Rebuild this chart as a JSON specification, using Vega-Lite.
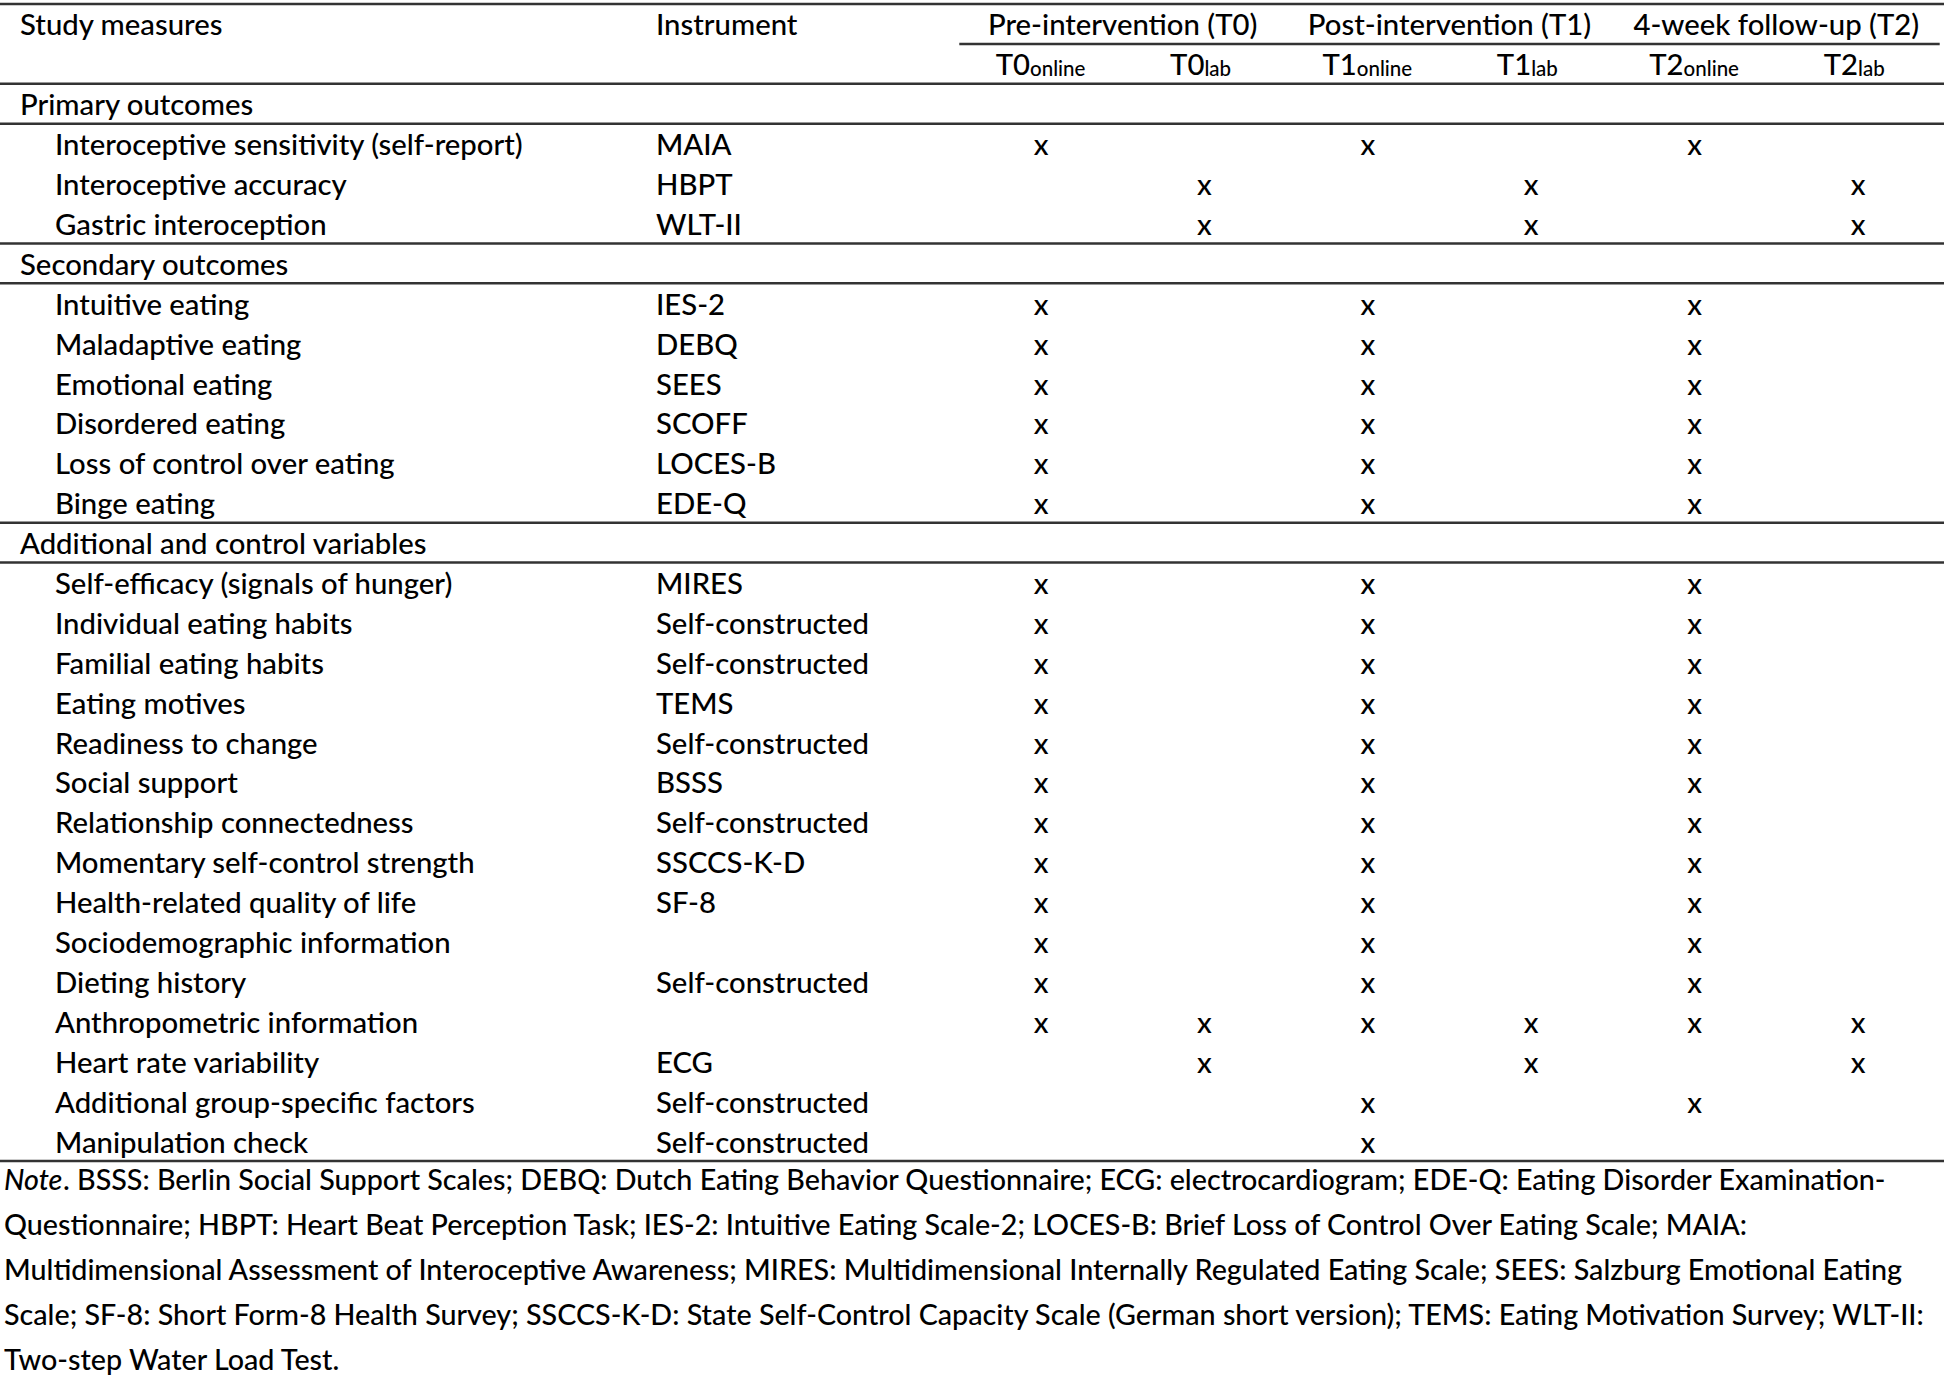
{
  "$schema": "https://vega.github.io/schema/vega-lite/v6.json",
  "width": 1944,
  "height": 1377,
  "padding": 0,
  "autosize": {"type": "none"},
  "background": "white",
  "config": {
    "view": {"stroke": null},
    "text": {"font": "Lato", "fontSize": 29.3, "fontWeight": 500, "color": "#000000", "baseline": "middle", "dy": 1.5}
  },
  "datasets": {
    "rules": [
      {"row": "Study measures"},
      {"row": "Primary outcomes"},
      {"row": "Interoceptive sensitivity (self-report)"},
      {"row": "Secondary outcomes"},
      {"row": "Intuitive eating"},
      {"row": "Additional and control variables"},
      {"row": "Self-efficacy (signals of hunger)"}
    ],
    "headers": [
      {"row": "Study measures", "col": "measures", "label": "Study measures"},
      {"row": "Study measures", "col": "instrument", "label": "Instrument"}
    ],
    "sections": [
      {"row": "Primary outcomes"},
      {"row": "Secondary outcomes"},
      {"row": "Additional and control variables"}
    ],
    "items": [
      {"row": "Interoceptive sensitivity (self-report)", "instrument": "MAIA"},
      {"row": "Interoceptive accuracy", "instrument": "HBPT"},
      {"row": "Gastric interoception", "instrument": "WLT-II"},
      {"row": "Intuitive eating", "instrument": "IES-2"},
      {"row": "Maladaptive eating", "instrument": "DEBQ"},
      {"row": "Emotional eating", "instrument": "SEES"},
      {"row": "Disordered eating", "instrument": "SCOFF"},
      {"row": "Loss of control over eating", "instrument": "LOCES-B"},
      {"row": "Binge eating", "instrument": "EDE-Q"},
      {"row": "Self-efficacy (signals of hunger)", "instrument": "MIRES"},
      {"row": "Individual eating habits", "instrument": "Self-constructed"},
      {"row": "Familial eating habits", "instrument": "Self-constructed"},
      {"row": "Eating motives", "instrument": "TEMS"},
      {"row": "Readiness to change", "instrument": "Self-constructed"},
      {"row": "Social support", "instrument": "BSSS"},
      {"row": "Relationship connectedness", "instrument": "Self-constructed"},
      {"row": "Momentary self-control strength", "instrument": "SSCCS-K-D"},
      {"row": "Health-related quality of life", "instrument": "SF-8"},
      {"row": "Sociodemographic information", "instrument": ""},
      {"row": "Dieting history", "instrument": "Self-constructed"},
      {"row": "Anthropometric information", "instrument": ""},
      {"row": "Heart rate variability", "instrument": "ECG"},
      {"row": "Additional group-specific factors", "instrument": "Self-constructed"},
      {"row": "Manipulation check", "instrument": "Self-constructed"}
    ],
    "groups": [
      {"label": "Pre-intervention (T0)", "at": "T0lab"},
      {"label": "Post-intervention (T1)", "at": "T1lab"},
      {"label": "4-week follow-up (T2)", "at": "T2lab"}
    ],
    "tps": [
      {"tp": "T0online", "main": "T0", "sub": "online"},
      {"tp": "T0lab", "main": "T0", "sub": "lab"},
      {"tp": "T1online", "main": "T1", "sub": "online"},
      {"tp": "T1lab", "main": "T1", "sub": "lab"},
      {"tp": "T2online", "main": "T2", "sub": "online"},
      {"tp": "T2lab", "main": "T2", "sub": "lab"}
    ],
    "marks": [
      {"row": "Interoceptive sensitivity (self-report)", "tp": "T0online"},
      {"row": "Interoceptive sensitivity (self-report)", "tp": "T1online"},
      {"row": "Interoceptive sensitivity (self-report)", "tp": "T2online"},
      {"row": "Interoceptive accuracy", "tp": "T0lab"},
      {"row": "Interoceptive accuracy", "tp": "T1lab"},
      {"row": "Interoceptive accuracy", "tp": "T2lab"},
      {"row": "Gastric interoception", "tp": "T0lab"},
      {"row": "Gastric interoception", "tp": "T1lab"},
      {"row": "Gastric interoception", "tp": "T2lab"},
      {"row": "Intuitive eating", "tp": "T0online"},
      {"row": "Intuitive eating", "tp": "T1online"},
      {"row": "Intuitive eating", "tp": "T2online"},
      {"row": "Maladaptive eating", "tp": "T0online"},
      {"row": "Maladaptive eating", "tp": "T1online"},
      {"row": "Maladaptive eating", "tp": "T2online"},
      {"row": "Emotional eating", "tp": "T0online"},
      {"row": "Emotional eating", "tp": "T1online"},
      {"row": "Emotional eating", "tp": "T2online"},
      {"row": "Disordered eating", "tp": "T0online"},
      {"row": "Disordered eating", "tp": "T1online"},
      {"row": "Disordered eating", "tp": "T2online"},
      {"row": "Loss of control over eating", "tp": "T0online"},
      {"row": "Loss of control over eating", "tp": "T1online"},
      {"row": "Loss of control over eating", "tp": "T2online"},
      {"row": "Binge eating", "tp": "T0online"},
      {"row": "Binge eating", "tp": "T1online"},
      {"row": "Binge eating", "tp": "T2online"},
      {"row": "Self-efficacy (signals of hunger)", "tp": "T0online"},
      {"row": "Self-efficacy (signals of hunger)", "tp": "T1online"},
      {"row": "Self-efficacy (signals of hunger)", "tp": "T2online"},
      {"row": "Individual eating habits", "tp": "T0online"},
      {"row": "Individual eating habits", "tp": "T1online"},
      {"row": "Individual eating habits", "tp": "T2online"},
      {"row": "Familial eating habits", "tp": "T0online"},
      {"row": "Familial eating habits", "tp": "T1online"},
      {"row": "Familial eating habits", "tp": "T2online"},
      {"row": "Eating motives", "tp": "T0online"},
      {"row": "Eating motives", "tp": "T1online"},
      {"row": "Eating motives", "tp": "T2online"},
      {"row": "Readiness to change", "tp": "T0online"},
      {"row": "Readiness to change", "tp": "T1online"},
      {"row": "Readiness to change", "tp": "T2online"},
      {"row": "Social support", "tp": "T0online"},
      {"row": "Social support", "tp": "T1online"},
      {"row": "Social support", "tp": "T2online"},
      {"row": "Relationship connectedness", "tp": "T0online"},
      {"row": "Relationship connectedness", "tp": "T1online"},
      {"row": "Relationship connectedness", "tp": "T2online"},
      {"row": "Momentary self-control strength", "tp": "T0online"},
      {"row": "Momentary self-control strength", "tp": "T1online"},
      {"row": "Momentary self-control strength", "tp": "T2online"},
      {"row": "Health-related quality of life", "tp": "T0online"},
      {"row": "Health-related quality of life", "tp": "T1online"},
      {"row": "Health-related quality of life", "tp": "T2online"},
      {"row": "Sociodemographic information", "tp": "T0online"},
      {"row": "Sociodemographic information", "tp": "T1online"},
      {"row": "Sociodemographic information", "tp": "T2online"},
      {"row": "Dieting history", "tp": "T0online"},
      {"row": "Dieting history", "tp": "T1online"},
      {"row": "Dieting history", "tp": "T2online"},
      {"row": "Anthropometric information", "tp": "T0online"},
      {"row": "Anthropometric information", "tp": "T0lab"},
      {"row": "Anthropometric information", "tp": "T1online"},
      {"row": "Anthropometric information", "tp": "T1lab"},
      {"row": "Anthropometric information", "tp": "T2online"},
      {"row": "Anthropometric information", "tp": "T2lab"},
      {"row": "Heart rate variability", "tp": "T0lab"},
      {"row": "Heart rate variability", "tp": "T1lab"},
      {"row": "Heart rate variability", "tp": "T2lab"},
      {"row": "Additional group-specific factors", "tp": "T1online"},
      {"row": "Additional group-specific factors", "tp": "T2online"},
      {"row": "Manipulation check", "tp": "T1online"}
    ],
    "notes": [
      {"line": 1, "text": ". BSSS: Berlin Social Support Scales; DEBQ: Dutch Eating Behavior Questionnaire; ECG: electrocardiogram; EDE-Q: Eating Disorder Examination-"},
      {"line": 2, "text": "Questionnaire; HBPT: Heart Beat Perception Task; IES-2: Intuitive Eating Scale-2; LOCES-B: Brief Loss of Control Over Eating Scale; MAIA:"},
      {"line": 3, "text": "Multidimensional Assessment of Interoceptive Awareness; MIRES: Multidimensional Internally Regulated Eating Scale; SEES: Salzburg Emotional Eating"},
      {"line": 4, "text": "Scale; SF-8: Short Form-8 Health Survey; SSCCS-K-D: State Self-Control Capacity Scale (German short version); TEMS: Eating Motivation Survey; WLT-II:"},
      {"line": 5, "text": "Two-step Water Load Test."}
    ]
  },
  "resolve": {"scale": {"x": "independent", "y": "independent"}},
  "layer": [
    {
      "data": {"name": "rules"},
      "mark": {"type": "rule", "strokeWidth": 2.5, "color": "#333333"},
      "encoding": {
        "y": {"field": "row", "type": "nominal", "bandPosition": 0, "axis": null,
          "scale": {"type": "band", "range": [4, 1161], "paddingInner": 0, "paddingOuter": 0,
            "domain": ["Study measures", "Timepoint", "Primary outcomes", "Interoceptive sensitivity (self-report)", "Interoceptive accuracy", "Gastric interoception", "Secondary outcomes", "Intuitive eating", "Maladaptive eating", "Emotional eating", "Disordered eating", "Loss of control over eating", "Binge eating", "Additional and control variables", "Self-efficacy (signals of hunger)", "Individual eating habits", "Familial eating habits", "Eating motives", "Readiness to change", "Social support", "Relationship connectedness", "Momentary self-control strength", "Health-related quality of life", "Sociodemographic information", "Dieting history", "Anthropometric information", "Heart rate variability", "Additional group-specific factors", "Manipulation check"]}}
      }
    },
    {
      "data": {"values": [{"row": "Manipulation check"}]},
      "mark": {"type": "rule", "strokeWidth": 2.5, "color": "#333333"},
      "encoding": {
        "y": {"field": "row", "type": "nominal", "bandPosition": 1, "axis": null,
          "scale": {"type": "band", "range": [4, 1161], "paddingInner": 0, "paddingOuter": 0,
            "domain": ["Study measures", "Timepoint", "Primary outcomes", "Interoceptive sensitivity (self-report)", "Interoceptive accuracy", "Gastric interoception", "Secondary outcomes", "Intuitive eating", "Maladaptive eating", "Emotional eating", "Disordered eating", "Loss of control over eating", "Binge eating", "Additional and control variables", "Self-efficacy (signals of hunger)", "Individual eating habits", "Familial eating habits", "Eating motives", "Readiness to change", "Social support", "Relationship connectedness", "Momentary self-control strength", "Health-related quality of life", "Sociodemographic information", "Dieting history", "Anthropometric information", "Heart rate variability", "Additional group-specific factors", "Manipulation check"]}}
      }
    },
    {
      "data": {"values": [{"row": "Timepoint", "from": "T0online", "to": "T2lab"}]},
      "mark": {"type": "rule", "strokeWidth": 2.5, "color": "#333333"},
      "encoding": {
        "x": {"field": "from", "type": "nominal", "bandPosition": 0, "axis": null,
          "scale": {"type": "band", "domain": ["T0online", "T0lab", "T1online", "T1lab", "T2online", "T2lab"], "range": [959.3, 1939.7], "paddingInner": 0, "paddingOuter": 0}},
        "x2": {"field": "to", "bandPosition": 1},
        "y": {"field": "row", "type": "nominal", "bandPosition": 0, "axis": null,
          "scale": {"type": "band", "range": [4, 1161], "paddingInner": 0, "paddingOuter": 0,
            "domain": ["Study measures", "Timepoint", "Primary outcomes", "Interoceptive sensitivity (self-report)", "Interoceptive accuracy", "Gastric interoception", "Secondary outcomes", "Intuitive eating", "Maladaptive eating", "Emotional eating", "Disordered eating", "Loss of control over eating", "Binge eating", "Additional and control variables", "Self-efficacy (signals of hunger)", "Individual eating habits", "Familial eating habits", "Eating motives", "Readiness to change", "Social support", "Relationship connectedness", "Momentary self-control strength", "Health-related quality of life", "Sociodemographic information", "Dieting history", "Anthropometric information", "Heart rate variability", "Additional group-specific factors", "Manipulation check"]}}
      }
    },
    {
      "data": {"name": "headers"},
      "mark": {"type": "text", "align": "left"},
      "encoding": {
        "x": {"field": "col", "type": "nominal", "axis": null,
          "scale": {"type": "point", "domain": ["measures", "instrument"], "range": [20, 656], "padding": 0}},
        "y": {"field": "row", "type": "nominal", "axis": null,
          "scale": {"type": "band", "range": [5, 1162], "paddingInner": 0, "paddingOuter": 0,
            "domain": ["Study measures", "Timepoint", "Primary outcomes", "Interoceptive sensitivity (self-report)", "Interoceptive accuracy", "Gastric interoception", "Secondary outcomes", "Intuitive eating", "Maladaptive eating", "Emotional eating", "Disordered eating", "Loss of control over eating", "Binge eating", "Additional and control variables", "Self-efficacy (signals of hunger)", "Individual eating habits", "Familial eating habits", "Eating motives", "Readiness to change", "Social support", "Relationship connectedness", "Momentary self-control strength", "Health-related quality of life", "Sociodemographic information", "Dieting history", "Anthropometric information", "Heart rate variability", "Additional group-specific factors", "Manipulation check"]}},
        "text": {"field": "label"}
      }
    },
    {
      "data": {"name": "sections"},
      "mark": {"type": "text", "align": "left"},
      "encoding": {
        "x": {"datum": "measures", "type": "nominal", "axis": null,
          "scale": {"type": "point", "domain": ["measures", "instrument"], "range": [20, 656], "padding": 0}},
        "y": {"field": "row", "type": "nominal", "axis": null,
          "scale": {"type": "band", "range": [5, 1162], "paddingInner": 0, "paddingOuter": 0,
            "domain": ["Study measures", "Timepoint", "Primary outcomes", "Interoceptive sensitivity (self-report)", "Interoceptive accuracy", "Gastric interoception", "Secondary outcomes", "Intuitive eating", "Maladaptive eating", "Emotional eating", "Disordered eating", "Loss of control over eating", "Binge eating", "Additional and control variables", "Self-efficacy (signals of hunger)", "Individual eating habits", "Familial eating habits", "Eating motives", "Readiness to change", "Social support", "Relationship connectedness", "Momentary self-control strength", "Health-related quality of life", "Sociodemographic information", "Dieting history", "Anthropometric information", "Heart rate variability", "Additional group-specific factors", "Manipulation check"]}},
        "text": {"field": "row"}
      }
    },
    {
      "data": {"name": "items"},
      "mark": {"type": "text", "align": "left", "dx": 35},
      "encoding": {
        "x": {"datum": "measures", "type": "nominal", "axis": null,
          "scale": {"type": "point", "domain": ["measures", "instrument"], "range": [20, 656], "padding": 0}},
        "y": {"field": "row", "type": "nominal", "axis": null,
          "scale": {"type": "band", "range": [5, 1162], "paddingInner": 0, "paddingOuter": 0,
            "domain": ["Study measures", "Timepoint", "Primary outcomes", "Interoceptive sensitivity (self-report)", "Interoceptive accuracy", "Gastric interoception", "Secondary outcomes", "Intuitive eating", "Maladaptive eating", "Emotional eating", "Disordered eating", "Loss of control over eating", "Binge eating", "Additional and control variables", "Self-efficacy (signals of hunger)", "Individual eating habits", "Familial eating habits", "Eating motives", "Readiness to change", "Social support", "Relationship connectedness", "Momentary self-control strength", "Health-related quality of life", "Sociodemographic information", "Dieting history", "Anthropometric information", "Heart rate variability", "Additional group-specific factors", "Manipulation check"]}},
        "text": {"field": "row"}
      }
    },
    {
      "data": {"name": "items"},
      "mark": {"type": "text", "align": "left"},
      "encoding": {
        "x": {"datum": "instrument", "type": "nominal", "axis": null,
          "scale": {"type": "point", "domain": ["measures", "instrument"], "range": [20, 656], "padding": 0}},
        "y": {"field": "row", "type": "nominal", "axis": null,
          "scale": {"type": "band", "range": [5, 1162], "paddingInner": 0, "paddingOuter": 0,
            "domain": ["Study measures", "Timepoint", "Primary outcomes", "Interoceptive sensitivity (self-report)", "Interoceptive accuracy", "Gastric interoception", "Secondary outcomes", "Intuitive eating", "Maladaptive eating", "Emotional eating", "Disordered eating", "Loss of control over eating", "Binge eating", "Additional and control variables", "Self-efficacy (signals of hunger)", "Individual eating habits", "Familial eating habits", "Eating motives", "Readiness to change", "Social support", "Relationship connectedness", "Momentary self-control strength", "Health-related quality of life", "Sociodemographic information", "Dieting history", "Anthropometric information", "Heart rate variability", "Additional group-specific factors", "Manipulation check"]}},
        "text": {"field": "instrument"}
      }
    },
    {
      "data": {"name": "groups"},
      "mark": {"type": "text", "align": "center"},
      "encoding": {
        "x": {"field": "at", "type": "nominal", "bandPosition": 0, "axis": null,
          "scale": {"type": "band", "domain": ["T0online", "T0lab", "T1online", "T1lab", "T2online", "T2lab"], "range": [959.3, 1939.7], "paddingInner": 0, "paddingOuter": 0}},
        "y": {"datum": "Study measures", "type": "nominal", "axis": null,
          "scale": {"type": "band", "range": [5, 1162], "paddingInner": 0, "paddingOuter": 0,
            "domain": ["Study measures", "Timepoint", "Primary outcomes", "Interoceptive sensitivity (self-report)", "Interoceptive accuracy", "Gastric interoception", "Secondary outcomes", "Intuitive eating", "Maladaptive eating", "Emotional eating", "Disordered eating", "Loss of control over eating", "Binge eating", "Additional and control variables", "Self-efficacy (signals of hunger)", "Individual eating habits", "Familial eating habits", "Eating motives", "Readiness to change", "Social support", "Relationship connectedness", "Momentary self-control strength", "Health-related quality of life", "Sociodemographic information", "Dieting history", "Anthropometric information", "Heart rate variability", "Additional group-specific factors", "Manipulation check"]}},
        "text": {"field": "label"}
      }
    },
    {
      "data": {"name": "tps"},
      "transform": [{"filter": "datum.sub === 'online'"}],
      "mark": {"type": "text", "align": "right", "dx": -11},
      "encoding": {
        "x": {"field": "tp", "type": "nominal", "axis": null,
          "scale": {"type": "band", "domain": ["T0online", "T0lab", "T1online", "T1lab", "T2online", "T2lab"], "range": [959.3, 1939.7], "paddingInner": 0, "paddingOuter": 0}},
        "y": {"datum": "Timepoint", "type": "nominal", "axis": null,
          "scale": {"type": "band", "range": [5, 1162], "paddingInner": 0, "paddingOuter": 0,
            "domain": ["Study measures", "Timepoint", "Primary outcomes", "Interoceptive sensitivity (self-report)", "Interoceptive accuracy", "Gastric interoception", "Secondary outcomes", "Intuitive eating", "Maladaptive eating", "Emotional eating", "Disordered eating", "Loss of control over eating", "Binge eating", "Additional and control variables", "Self-efficacy (signals of hunger)", "Individual eating habits", "Familial eating habits", "Eating motives", "Readiness to change", "Social support", "Relationship connectedness", "Momentary self-control strength", "Health-related quality of life", "Sociodemographic information", "Dieting history", "Anthropometric information", "Heart rate variability", "Additional group-specific factors", "Manipulation check"]}},
        "text": {"field": "main"}
      }
    },
    {
      "data": {"name": "tps"},
      "transform": [{"filter": "datum.sub === 'online'"}],
      "mark": {"type": "text", "align": "left", "dx": -11, "dy": 5.5, "fontSize": 20.5},
      "encoding": {
        "x": {"field": "tp", "type": "nominal", "axis": null,
          "scale": {"type": "band", "domain": ["T0online", "T0lab", "T1online", "T1lab", "T2online", "T2lab"], "range": [959.3, 1939.7], "paddingInner": 0, "paddingOuter": 0}},
        "y": {"datum": "Timepoint", "type": "nominal", "axis": null,
          "scale": {"type": "band", "range": [5, 1162], "paddingInner": 0, "paddingOuter": 0,
            "domain": ["Study measures", "Timepoint", "Primary outcomes", "Interoceptive sensitivity (self-report)", "Interoceptive accuracy", "Gastric interoception", "Secondary outcomes", "Intuitive eating", "Maladaptive eating", "Emotional eating", "Disordered eating", "Loss of control over eating", "Binge eating", "Additional and control variables", "Self-efficacy (signals of hunger)", "Individual eating habits", "Familial eating habits", "Eating motives", "Readiness to change", "Social support", "Relationship connectedness", "Momentary self-control strength", "Health-related quality of life", "Sociodemographic information", "Dieting history", "Anthropometric information", "Heart rate variability", "Additional group-specific factors", "Manipulation check"]}},
        "text": {"field": "sub"}
      }
    },
    {
      "data": {"name": "tps"},
      "transform": [{"filter": "datum.sub === 'lab'"}],
      "mark": {"type": "text", "align": "right", "dx": 0},
      "encoding": {
        "x": {"field": "tp", "type": "nominal", "axis": null,
          "scale": {"type": "band", "domain": ["T0online", "T0lab", "T1online", "T1lab", "T2online", "T2lab"], "range": [959.3, 1939.7], "paddingInner": 0, "paddingOuter": 0}},
        "y": {"datum": "Timepoint", "type": "nominal", "axis": null,
          "scale": {"type": "band", "range": [5, 1162], "paddingInner": 0, "paddingOuter": 0,
            "domain": ["Study measures", "Timepoint", "Primary outcomes", "Interoceptive sensitivity (self-report)", "Interoceptive accuracy", "Gastric interoception", "Secondary outcomes", "Intuitive eating", "Maladaptive eating", "Emotional eating", "Disordered eating", "Loss of control over eating", "Binge eating", "Additional and control variables", "Self-efficacy (signals of hunger)", "Individual eating habits", "Familial eating habits", "Eating motives", "Readiness to change", "Social support", "Relationship connectedness", "Momentary self-control strength", "Health-related quality of life", "Sociodemographic information", "Dieting history", "Anthropometric information", "Heart rate variability", "Additional group-specific factors", "Manipulation check"]}},
        "text": {"field": "main"}
      }
    },
    {
      "data": {"name": "tps"},
      "transform": [{"filter": "datum.sub === 'lab'"}],
      "mark": {"type": "text", "align": "left", "dx": 0, "dy": 5.5, "fontSize": 20.5},
      "encoding": {
        "x": {"field": "tp", "type": "nominal", "axis": null,
          "scale": {"type": "band", "domain": ["T0online", "T0lab", "T1online", "T1lab", "T2online", "T2lab"], "range": [959.3, 1939.7], "paddingInner": 0, "paddingOuter": 0}},
        "y": {"datum": "Timepoint", "type": "nominal", "axis": null,
          "scale": {"type": "band", "range": [5, 1162], "paddingInner": 0, "paddingOuter": 0,
            "domain": ["Study measures", "Timepoint", "Primary outcomes", "Interoceptive sensitivity (self-report)", "Interoceptive accuracy", "Gastric interoception", "Secondary outcomes", "Intuitive eating", "Maladaptive eating", "Emotional eating", "Disordered eating", "Loss of control over eating", "Binge eating", "Additional and control variables", "Self-efficacy (signals of hunger)", "Individual eating habits", "Familial eating habits", "Eating motives", "Readiness to change", "Social support", "Relationship connectedness", "Momentary self-control strength", "Health-related quality of life", "Sociodemographic information", "Dieting history", "Anthropometric information", "Heart rate variability", "Additional group-specific factors", "Manipulation check"]}},
        "text": {"field": "sub"}
      }
    },
    {
      "data": {"name": "marks"},
      "mark": {"type": "text", "align": "center"},
      "encoding": {
        "x": {"field": "tp", "type": "nominal", "axis": null,
          "scale": {"type": "band", "domain": ["T0online", "T0lab", "T1online", "T1lab", "T2online", "T2lab"], "range": [959.3, 1939.7], "paddingInner": 0, "paddingOuter": 0}},
        "y": {"field": "row", "type": "nominal", "axis": null,
          "scale": {"type": "band", "range": [5, 1162], "paddingInner": 0, "paddingOuter": 0,
            "domain": ["Study measures", "Timepoint", "Primary outcomes", "Interoceptive sensitivity (self-report)", "Interoceptive accuracy", "Gastric interoception", "Secondary outcomes", "Intuitive eating", "Maladaptive eating", "Emotional eating", "Disordered eating", "Loss of control over eating", "Binge eating", "Additional and control variables", "Self-efficacy (signals of hunger)", "Individual eating habits", "Familial eating habits", "Eating motives", "Readiness to change", "Social support", "Relationship connectedness", "Momentary self-control strength", "Health-related quality of life", "Sociodemographic information", "Dieting history", "Anthropometric information", "Heart rate variability", "Additional group-specific factors", "Manipulation check"]}},
        "text": {"value": "x"}
      }
    },
    {
      "data": {"values": [{"line": 1, "text": "Note"}]},
      "mark": {"type": "text", "align": "left", "dx": -16, "dy": 2.5, "fontSize": 28.7, "fontStyle": "italic"},
      "encoding": {
        "x": {"datum": "measures", "type": "nominal", "axis": null,
          "scale": {"type": "point", "domain": ["measures", "instrument"], "range": [20, 656], "padding": 0}},
        "y": {"field": "line", "type": "ordinal", "axis": null,
          "scale": {"type": "band", "domain": [1, 2, 3, 4, 5], "range": [1156.6, 1380.4], "paddingInner": 0, "paddingOuter": 0}},
        "text": {"field": "text"}
      }
    },
    {
      "data": {"name": "notes"},
      "transform": [{"filter": "datum.line === 1"}],
      "mark": {"type": "text", "align": "left", "dx": 43, "dy": 2.5, "fontSize": 28.7},
      "encoding": {
        "x": {"datum": "measures", "type": "nominal", "axis": null,
          "scale": {"type": "point", "domain": ["measures", "instrument"], "range": [20, 656], "padding": 0}},
        "y": {"field": "line", "type": "ordinal", "axis": null,
          "scale": {"type": "band", "domain": [1, 2, 3, 4, 5], "range": [1156.6, 1380.4], "paddingInner": 0, "paddingOuter": 0}},
        "text": {"field": "text"}
      }
    },
    {
      "data": {"name": "notes"},
      "transform": [{"filter": "datum.line > 1"}],
      "mark": {"type": "text", "align": "left", "dx": -16, "dy": 2.5, "fontSize": 28.7},
      "encoding": {
        "x": {"datum": "measures", "type": "nominal", "axis": null,
          "scale": {"type": "point", "domain": ["measures", "instrument"], "range": [20, 656], "padding": 0}},
        "y": {"field": "line", "type": "ordinal", "axis": null,
          "scale": {"type": "band", "domain": [1, 2, 3, 4, 5], "range": [1156.6, 1380.4], "paddingInner": 0, "paddingOuter": 0}},
        "text": {"field": "text"}
      }
    }
  ]
}
